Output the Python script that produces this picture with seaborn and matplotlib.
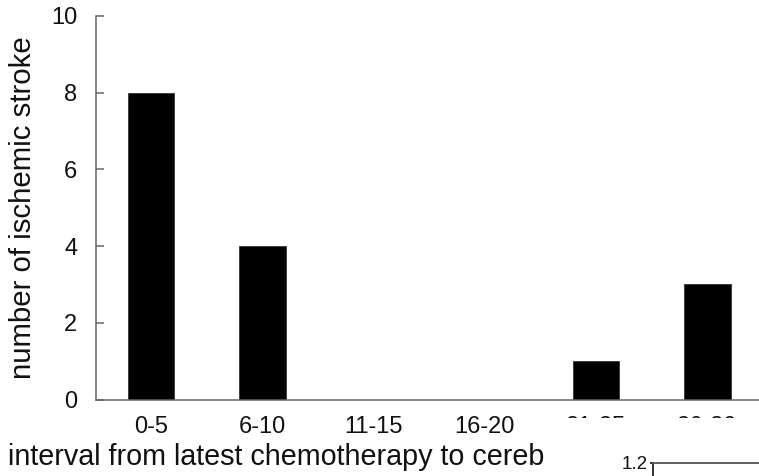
import matplotlib
matplotlib.use("Agg")
import matplotlib.pyplot as plt
from matplotlib.patches import Rectangle
import seaborn as sns
import pandas as pd

# Interval bins (time since the latest chemotherapy) and stroke counts
intervals = ["0-5", "6-10", "11-15", "16-20", "21-25", "26-30"]
stroke_counts = [8, 4, 0, 0, 1, 3]
y_ticks = [0, 2, 4, 6, 8, 10]

y_label = "number of ischemic stroke"
x_label = "interval from latest chemotherapy to cerebral infarction"

sns.set_style("white")
plt.rcParams["font.family"] = ["Liberation Sans", "DejaVu Sans"]

W, H = 759, 476
fig = plt.figure(figsize=(W / 100, H / 100), dpi=100)


def px_box(left, top, right, bottom):
    """Figure-fraction box from pixel edges measured from the top-left."""
    return [left / W, 1 - bottom / H, (right - left) / W, (bottom - top) / H]


ax = fig.add_axes(px_box(95.5, 16, 763, 399.5))

df = pd.DataFrame({"interval": intervals, "count": stroke_counts})
sns.barplot(data=df, x="interval", y="count", color="black", width=0.42,
            edgecolor="#333333", linewidth=0.6, saturation=1, ax=ax)

ax.set_xlim(-0.5, len(intervals) - 0.5)
ax.set_ylim(0, 10)
ax.set_yticks(y_ticks)
ax.set_xlabel("")
ax.set_ylabel(y_label, fontsize=21.2, color="#111111")
ax.yaxis.set_label_coords(-0.087, 0.5)

for side in ("top", "right"):
    ax.spines[side].set_visible(False)
for side in ("left", "bottom"):
    ax.spines[side].set_color("#666666")
    ax.spines[side].set_linewidth(1.1)

ax.tick_params(axis="y", left=True, direction="in", length=6, width=1.1,
               color="#666666", labelsize=17, labelcolor="#111111", pad=13)
ax.tick_params(axis="x", bottom=False, length=0, labelsize=17,
               labelcolor="#111111", pad=12)

# x-axis title, written as figure text so it can sit under the inset panel
XLAB_SIZE = 20.7
xlab = fig.text(8 / W, 1 - 465 / H, x_label, fontsize=XLAB_SIZE, color="#111111",
                ha="left", va="baseline", zorder=3)

# The neighbouring panel starts right after "...to cereb"
renderer = fig.canvas.get_renderer()
probe = fig.text(8 / W, 1 - 465 / H, x_label[:x_label.index("cereb") + 5],
                 fontsize=XLAB_SIZE, ha="left", va="baseline")
cut_px = probe.get_window_extent(renderer).x1 + 0.5
probe.remove()

fig.patches.append(Rectangle((cut_px / W, -0.02), 1, (476 - 418) / H + 0.02,
                             transform=fig.transFigure, facecolor="white",
                             edgecolor="none", zorder=5))

ax2 = fig.add_axes(px_box(653, 462.5, 800, 800))
ax2.set_zorder(10)
ax2.set_facecolor("white")
ax2.set_ylim(0, 1.2)
ax2.set_xlim(0, 1)
ax2.set_yticks([1.2])
ax2.set_yticklabels(["1.2"])
ax2.set_xticks([])
ax2.spines["right"].set_visible(False)
ax2.spines["bottom"].set_visible(False)
ax2.spines["left"].set_color("#222222")
ax2.spines["left"].set_linewidth(1.3)
ax2.spines["top"].set_color("#555555")
ax2.spines["top"].set_linewidth(1.3)
ax2.tick_params(axis="y", left=True, direction="out", length=2.5, width=1.3,
                color="#222222", labelsize=13.5, labelcolor="#111111", pad=1.0)

fig.savefig("out.png", dpi=100, facecolor="white")
